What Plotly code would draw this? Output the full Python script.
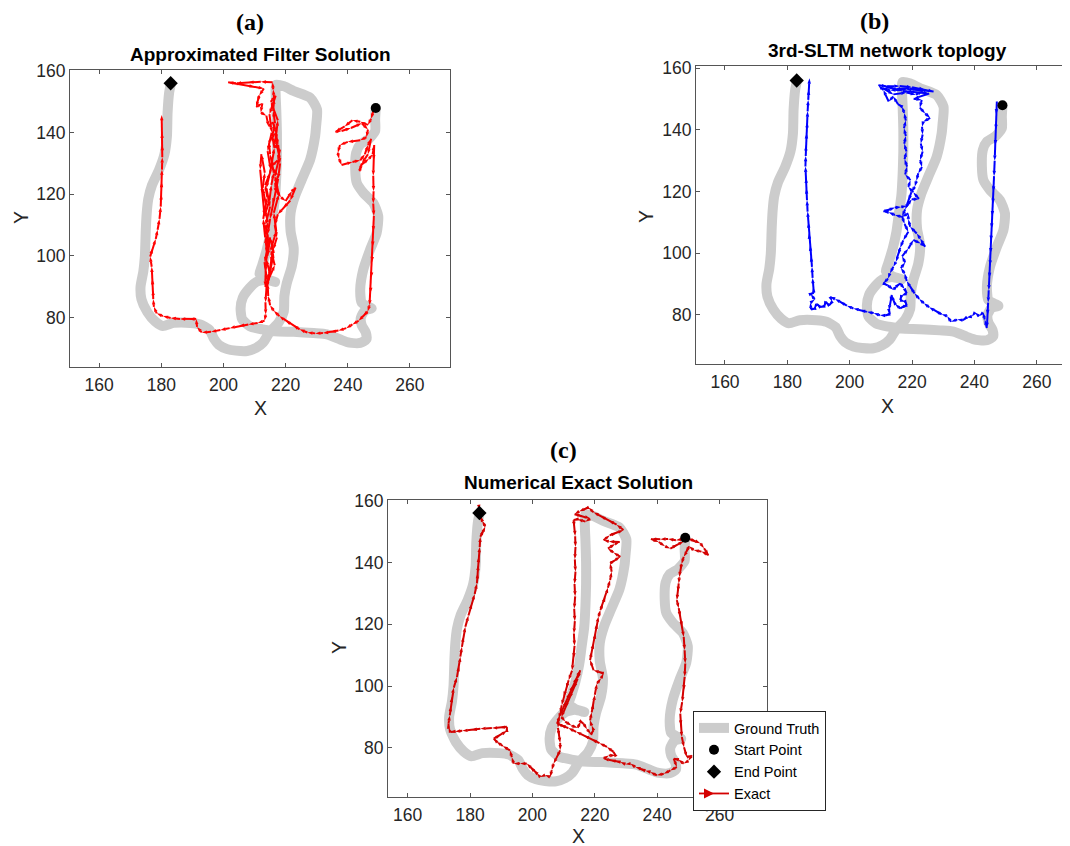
import plotly.graph_objects as go

W, H = 1070, 846
# empirical page placement of the exported figure (body margin etc.)
OFFX, OFFY, EFF_H = 8, 17, 837

X_TICKS = [160, 180, 200, 220, 240, 260]
Y_TICKS = [80, 100, 120, 140, 160]

START_X = [249.0]
START_Y = [148.0]
END_X = [183.0]
END_Y = [156.0]

# Ground truth path (same in all panels)
GT_X = [249.0, 248.8, 248.8, 246.6, 244.0, 242.7, 242.4, 242.9, 245.0, 248.2,
        249.8, 249.3, 247.2, 245.0, 244.0, 244.5, 246.5, 247.7, 245.5, 244.2,
        244.5, 245.8, 246.0, 244.0, 240.5, 237.6, 233.3, 229.0, 222.6, 216.5,
        212.5, 208.5, 206.0, 205.5, 206.2, 208.3, 210.6, 213.6, 216.6, 213.6,
        211.6, 212.3, 213.8, 215.0, 215.8, 216.6, 217.0, 217.2, 217.2, 217.0,
        216.8, 216.9, 219.5, 222.6, 227.9, 230.1, 229.8, 229.5, 227.9, 225.2,
        223.0, 221.6, 221.6, 222.6, 222.0, 220.4, 219.6, 219.4, 217.8, 215.0,
        212.8, 210.5, 207.6, 204.0, 201.2, 198.5, 196.9, 195.5, 192.5, 189.4,
        184.0, 180.5, 178.0, 175.5, 173.6, 173.3, 174.2, 174.7, 175.0, 175.3,
        175.8, 177.0, 179.3, 181.0, 181.8, 182.0, 182.5, 183.0]
GT_Y = [148.0, 144.3, 140.5, 137.8, 136.2, 133.5, 128.1, 123.7, 120.5, 117.2,
        112.9, 107.5, 102.1, 95.6, 89.1, 84.8, 83.6, 83.0, 82.3, 80.0,
        77.5, 75.2, 73.0, 71.8, 71.9, 72.9, 74.6, 75.0, 75.4, 75.6,
        76.2, 77.2, 79.5, 83.0, 86.5, 89.5, 91.6, 92.3, 91.6, 92.6,
        94.2, 96.5, 101.5, 107.0, 113.0, 119.0, 126.0, 133.0, 140.0, 147.0,
        152.0, 155.5, 155.0, 153.5, 151.3, 147.5, 142.0, 138.9, 131.3, 124.8,
        119.4, 114.0, 108.0, 102.5, 96.7, 91.3, 87.0, 82.0, 78.5, 75.5,
        72.0, 70.2, 69.2, 69.3, 69.8, 71.2, 73.2, 76.0, 77.8, 78.3,
        78.3, 77.3, 78.8, 81.8, 86.0, 90.0, 95.0, 100.0, 108.6, 114.0,
        118.5, 123.0, 128.0, 133.0, 138.9, 146.4, 152.9, 155.5]

# (a) Approximated filter solution
A_X = [248.3, 247.5, 246.5, 244.0, 241.5, 239.0, 236.0, 238.0, 241.0, 244.5,
       246.5, 246.0, 244.0, 240.0, 237.5, 236.8, 237.2, 238.0, 241.5, 244.0,
       245.5, 246.5, 247.5, 246.5, 244.5, 243.8, 244.3, 246.8, 248.0, 248.5,
       248.3, 248.2, 248.3, 248.2, 248.4, 248.2, 248.0, 247.8, 247.6, 247.3,
       247.0, 246.4, 245.0, 243.5, 241.5, 239.5, 237.0, 234.5, 232.0, 229.5,
       227.0, 224.5, 222.5, 220.0, 218.0, 216.2, 215.0, 214.4, 214.2, 214.8,
       213.7, 214.6, 213.5, 214.3, 213.3, 214.1, 213.4, 215.0, 215.6, 216.4,
       215.7, 216.6, 216.0, 216.3, 216.0, 215.8, 212.0, 208.0, 204.0, 201.5,
       206.0, 210.0, 213.0, 211.5, 211.0, 210.5, 212.5, 212.0, 213.8, 214.5,
       215.8, 217.2, 216.2, 218.2, 217.4, 215.4, 217.5, 216.4, 218.5, 220.0,
       222.0, 223.2, 221.5, 219.2, 217.5, 216.5, 217.2, 216.0, 215.2, 214.6,
       214.0, 215.2, 216.2, 215.0, 214.2, 213.4, 212.8, 213.6, 212.6, 213.3,
       212.2, 211.8, 212.6, 213.2, 214.8, 215.4, 216.2, 215.0, 214.6, 216.8,
       217.6, 218.2, 217.6, 216.8, 215.8, 215.0, 214.2, 213.8, 213.6, 213.4,
       214.8, 216.5, 215.2, 217.0, 216.2, 217.8, 216.5, 218.0, 216.8, 217.5,
       215.2, 216.8, 214.8, 215.5, 214.2, 215.2, 213.8, 215.0, 213.5, 214.6,
       213.2, 214.0,
       213.5, 213.6, 213.2, 211.0, 208.0, 205.0, 202.0, 199.0, 196.0, 193.0,
       191.5, 191.2, 189.0, 186.0, 183.0, 180.5, 178.5, 177.6, 177.4, 177.3,
       177.1, 176.9, 176.4, 177.2, 178.2, 178.8, 179.4, 179.8, 180.0, 180.1,
       180.2, 180.3, 180.3, 180.2, 180.1]
A_Y = [147.2, 144.5, 142.5, 143.5, 144.0, 142.0, 140.3, 140.5, 141.5, 143.0,
       141.0, 138.5, 137.5, 137.0, 136.0, 133.5, 131.5, 129.5, 130.5, 131.0,
       133.0, 136.0, 138.0, 133.0, 130.0, 127.5, 129.5, 131.5, 133.0, 136.0,
       131.0, 126.0, 121.0, 117.0, 113.0, 108.0, 103.0, 98.0, 93.0, 88.0,
       84.0, 82.0, 80.5, 79.0, 77.8, 76.6, 75.8, 75.3, 75.0, 74.9,
       75.2, 76.2, 77.5, 79.0, 80.5, 82.2, 84.0, 87.0, 91.0, 95.0,
       99.0, 103.0, 107.0, 111.0, 115.0, 119.0, 123.0, 127.0, 131.0, 135.0,
       139.0, 143.0, 147.0, 151.0, 154.0, 156.3, 156.5, 156.3, 156.0, 156.3,
       155.6, 154.8, 154.3, 152.0, 150.0, 148.3, 149.5, 146.5, 145.5, 142.0,
       143.5, 139.5, 136.0, 134.5, 131.0, 129.0, 126.0, 122.0, 119.0, 117.8,
       121.0, 122.2, 118.0, 115.5, 113.5, 110.0, 106.0, 102.0, 98.0, 94.0,
       90.0, 96.0, 101.0, 106.0, 100.0, 106.0, 112.0, 117.0, 122.0, 127.0,
       133.0, 128.0, 120.0, 113.0, 118.0, 123.0, 127.0, 133.0, 137.0, 140.0,
       136.0, 130.0, 125.0, 121.0, 117.0, 112.0, 107.0, 101.0, 95.0, 90.0,
       93.0, 97.0, 102.0, 108.0, 114.0, 120.0, 126.0, 132.0, 138.0, 144.0,
       150.0, 152.0, 146.0, 140.0, 134.0, 128.0, 122.0, 116.0, 110.0, 104.0,
       98.0, 92.0,
       85.0, 81.0, 79.0, 78.3, 77.8, 77.3, 76.6, 76.0, 75.4, 75.2,
       77.0, 79.6, 79.5, 79.6, 79.9, 80.5, 81.4, 83.5, 86.0, 89.0,
       92.5, 96.5, 99.8, 102.5, 105.5, 108.5, 112.0, 116.0, 120.0, 124.0,
       128.0, 132.0, 136.0, 140.0, 145.7]

# (b) 3rd-SLTM network topology
B_X = [247.2, 247.0, 246.9, 246.7, 246.5, 246.3, 246.1, 245.9, 245.7, 245.5,
       245.3, 245.2, 245.0, 244.8, 244.6, 244.4, 244.2, 244.0, 243.3, 242.8,
       241.5, 240.2, 239.2, 237.5, 236.3, 234.5, 232.5, 231.3, 229.5, 227.5,
       225.5, 223.8, 222.3, 220.8, 219.5, 218.3, 217.6, 216.4, 217.8, 216.8,
       218.8, 220.4, 222.8, 224.2, 222.6, 221.5, 219.4, 218.8, 218.8, 216.7,
       214.5, 212.5, 210.8, 212.8, 214.5, 216.5, 218.3, 219.9, 222.2, 220.4,
       218.8, 219.5, 217.8, 218.4, 217.6, 218.2, 217.5, 218.0, 217.4, 218.0,
       217.5, 216.8, 215.5, 214.0, 212.5, 210.8, 209.2, 212.0, 216.0, 220.0,
       224.0, 226.9, 222.6, 218.0, 213.0, 210.5, 214.0, 218.2, 221.2, 223.5,
       219.0, 214.5, 211.0, 217.0, 225.5,
       220.5, 223.1, 222.5, 224.2, 225.8, 223.6, 223.2, 223.4, 222.8, 223.4,
       222.6, 223.2, 222.0, 221.4, 220.9, 219.8, 218.9, 217.8, 216.8, 217.6,
       218.8, 217.2, 216.2, 215.6, 214.8, 214.0, 212.9, 212.3, 210.8, 212.2,
       214.0, 215.4, 216.2, 217.6, 218.3, 216.6, 216.2, 217.8, 218.3, 216.9,
       216.2, 214.6, 214.0, 213.5, 213.0, 212.6, 212.9, 211.4, 209.7, 207.7,
       205.5, 203.3, 201.2, 199.1, 196.9, 195.3, 193.7, 194.4, 193.4, 192.3,
       191.8, 190.5, 189.5, 188.5, 187.6, 187.4, 188.8, 187.5, 188.5, 188.3,
       188.1, 187.9, 187.6, 187.3, 186.9, 186.8, 186.5, 186.3, 186.1, 186.0,
       185.8, 185.9, 186.0, 186.2, 186.4, 186.5, 186.7, 186.9, 187.1]
B_Y = [149.2, 145.0, 140.0, 135.0, 130.0, 125.0, 120.0, 116.0, 112.0, 108.0,
       104.0, 100.0, 96.0, 92.0, 88.0, 84.0, 80.0, 75.8, 78.5, 80.8,
       79.6, 80.8, 79.5, 79.2, 78.3, 78.5, 77.8, 79.6, 80.2, 81.3,
       82.5, 83.8, 85.2, 87.0, 89.0, 91.0, 93.5, 95.2, 97.0, 99.0,
       101.5, 104.3, 103.2, 102.1, 104.8, 106.4, 108.6, 111.0, 112.9, 111.8,
       112.4, 113.3, 113.5, 114.2, 114.8, 115.0, 115.3, 117.5, 117.6, 119.8,
       121.5, 123.7, 125.5, 128.1, 130.5, 133.0, 135.5, 138.0, 140.5, 143.0,
       145.5, 147.5, 148.3, 150.8, 149.2, 152.9, 154.5, 154.1, 154.2, 153.8,
       153.1, 152.4, 152.9, 153.2, 152.8, 153.6, 151.5, 152.1, 151.4, 152.6,
       153.6, 153.2, 154.2, 152.6, 151.8,
       150.1, 149.7, 147.2, 145.3, 143.9, 142.6, 141.0, 138.5, 135.6, 133.0,
       130.2, 128.0, 125.9, 123.5, 121.6, 119.8, 117.0, 114.2, 112.0, 109.5,
       107.0, 104.2, 101.8, 99.5, 97.2, 95.6, 93.5, 91.8, 90.2, 89.6,
       88.2, 89.6, 90.2, 88.4, 87.0, 86.2, 84.8, 84.3, 83.2, 82.5,
       82.1, 83.5, 84.8, 86.5, 84.2, 81.5, 80.3, 79.8, 79.9, 80.6,
       81.0, 81.6, 82.1, 83.0, 84.3, 85.2, 85.9, 84.3, 83.1, 84.2,
       82.8, 82.6, 83.6, 82.0, 81.8, 84.0, 85.0, 86.8, 87.2, 89.0,
       92.0, 95.6, 99.0, 102.5, 106.4, 110.0, 113.5, 117.2, 121.0, 124.5,
       128.1, 131.5, 135.0, 138.9, 142.5, 146.0, 149.7, 153.0, 156.7]

# (c) Numerical exact solution
C_X = [249.2, 248.0, 246.0, 243.5, 241.0, 238.0, 240.5, 242.5, 244.2, 246.5,
       248.5, 250.5, 252.5, 253.8, 255.0, 256.5, 254.2, 251.7, 250.2, 249.3,
       248.5, 247.8, 247.4, 247.1, 246.9, 246.6, 246.3, 246.9, 247.4, 248.0,
       248.5, 248.8, 249.0, 248.8, 248.5, 248.0, 247.4, 247.6, 247.9, 248.6,
       249.5, 251.1, 250.0, 248.5, 246.8, 245.3, 246.3, 244.2, 242.1, 239.9,
       237.8, 236.2, 234.6, 233.0, 231.4, 229.8, 228.2, 226.6, 225.0, 222.8,
       224.5, 226.6, 226.0, 223.9, 221.5, 219.0, 216.5, 214.0, 211.5, 209.0,
       207.9, 208.8, 209.8, 210.9, 212.0, 213.0, 214.2, 215.3, 214.5, 213.2,
       211.8, 210.5, 209.3, 210.5, 212.5, 214.5, 215.5, 216.4, 217.5, 218.8,
       219.6, 219.0, 218.5, 219.0, 219.6, 220.0, 220.7, 222.0, 222.8, 221.2,
       219.6, 218.5, 219.0, 219.6, 220.2, 220.7, 221.2, 221.8, 222.6, 223.4,
       224.2, 224.9, 225.4, 224.9, 226.5, 228.2, 226.0, 224.2, 226.5, 228.0,
       224.5, 222.8, 224.8, 227.0, 229.2, 227.0, 224.5, 221.8, 219.6, 218.0,
       216.5, 215.0, 213.5, 216.0, 218.5, 217.0, 214.5, 213.2, 213.5, 213.7,
       213.8, 213.6, 213.8, 213.5, 213.7, 213.4, 213.6, 213.3, 213.5, 213.2,
       212.7, 211.6, 210.8, 210.0, 209.4, 208.9, 208.4, 208.2, 208.6, 208.9,
       208.9, 207.8, 206.8, 206.2, 205.7, 204.0, 202.5, 201.4, 200.4, 199.3,
       198.2, 196.0, 194.0, 193.4, 192.8, 190.5, 188.5, 187.6, 189.8, 191.8,
       191.8, 189.5, 187.0, 183.3, 180.5, 177.5, 175.2, 173.7, 173.1, 173.1,
       173.5, 173.9, 174.2, 174.8, 175.8, 176.5, 176.9, 177.4, 177.9, 178.5,
       179.5, 180.6, 181.5, 182.2, 182.5, 182.6, 182.8, 183.1, 183.3, 184.4,
       184.9, 183.9, 183.3, 182.8, 182.8, 183.0]
C_Y = [148.0, 147.5, 147.2, 147.6, 147.5, 147.6, 146.6, 145.2, 144.5, 145.8,
       146.8, 147.5, 146.8, 146.2, 144.6, 142.4, 143.5, 144.0, 145.2, 143.2,
       141.8, 139.5, 137.5, 135.2, 133.2, 130.5, 127.8, 125.2, 122.4, 119.2,
       115.9, 111.6, 107.3, 103.0, 98.6, 94.8, 91.1, 87.2, 83.5, 80.2,
       77.0, 77.6, 75.8, 74.9, 76.2, 76.5, 73.8, 72.7, 71.6, 71.1,
       72.2, 72.6, 73.3, 73.8, 74.9, 74.7, 75.4, 75.7, 76.0, 76.5,
       77.5, 77.6, 78.7, 80.3, 81.5, 82.8, 84.0, 85.2, 86.4, 87.4,
       87.8, 90.5, 92.8, 95.2, 97.8, 100.2, 102.8, 105.1, 102.3, 99.2,
       96.0, 93.0, 90.0, 88.5, 87.2, 86.5, 88.5, 87.8, 86.0, 84.5,
       85.7, 87.2, 88.9, 91.5, 94.3, 97.2, 100.8, 102.5, 104.1, 104.6,
       105.1, 108.4, 111.2, 113.8, 117.0, 120.2, 122.5, 124.6, 126.8, 128.9,
       131.8, 134.3, 137.0, 139.7, 140.8, 141.8, 143.2, 144.5, 146.0, 146.6,
       146.8, 147.2, 148.8, 149.6, 150.5, 152.2, 153.6, 155.0, 156.2, 157.8,
       157.2, 156.5, 155.6, 155.0, 154.2, 153.2, 154.0, 153.7, 151.5, 148.5,
       145.0, 141.0, 137.0, 133.0, 129.0, 125.0, 121.0, 117.0, 113.0, 109.0,
       105.0, 101.9, 99.2, 96.5, 93.8, 91.1, 89.5, 86.5, 83.8, 81.6,
       79.2, 77.0, 74.9, 72.8, 70.6, 71.2, 70.6, 71.8, 72.7, 73.8,
       74.9, 74.9, 74.9, 77.0, 79.2, 80.6, 82.0, 83.0, 84.2, 85.5,
       86.8, 86.5, 86.4, 86.2, 85.8, 85.5, 85.3, 85.1, 86.6, 87.9,
       90.5, 93.5, 96.5, 99.5, 102.9, 106.5, 109.5, 112.7, 116.0, 119.2,
       122.8, 126.7, 129.8, 133.2, 136.5, 139.2, 141.8, 145.0, 148.3, 150.5,
       151.6, 153.5, 154.8, 156.5, 158.6, 157.0]

SANS = "Liberation Sans, Arial, Helvetica, sans-serif"
SERIF = "Liberation Serif, Times New Roman, serif"
AX_COLOR = "#555555"
TXT_COLOR = "#262626"
GT_COLOR = "#cccccc"

PANELS = [
    dict(n="", box=(70, 450, 70, 367), xr=(150.6, 272.9), yr=(64.0, 160.3),
         label="(a)", label_xy=(250, 22), title="Approximated Filter Solution",
         title_xy=(260, 54), xt_xy=(260, 408), yt_xy=(21, 218),
         tx=A_X, ty=A_Y, color="#ff0000"),
    dict(n="2", box=(696, 1067, 66, 364), xr=(150.7, 269.7), yr=(64.1, 160.7),
         label="(b)", label_xy=(875, 21), title="3rd-SLTM network toplogy",
         title_xy=(887, 51), xt_xy=(887, 406), yt_xy=(646, 217),
         tx=B_X, ty=B_Y, color="#0000ff"),
    dict(n="3", box=(388, 767, 500, 797), xr=(153.7, 275.2), yr=(64.1, 160.2),
         label="(c)", label_xy=(563, 450), title="Numerical Exact Solution",
         title_xy=(578, 483), xt_xy=(578, 836), yt_xy=(339, 648),
         tx=C_X, ty=C_Y, color="#d40000"),
]


def px2paper(x, y):
    return (x - OFFX) / W, 1 - (y - OFFY) / EFF_H


fig = go.Figure()
annotations = []
layout_axes = {}

for i, p in enumerate(PANELS):
    xa, ya = "x" + p["n"], "y" + p["n"]
    last = (i == 2)
    fig.add_trace(go.Scatter(
        x=GT_X, y=GT_Y, xaxis=xa, yaxis=ya, mode="lines", name="Ground Truth",
        line=dict(color=GT_COLOR, width=10, shape="spline", smoothing=0.6),
        showlegend=last, hoverinfo="skip"))
    fig.add_trace(go.Scatter(
        x=p["tx"], y=p["ty"], xaxis=xa, yaxis=ya, mode="lines+markers",
        name="Exact", line=dict(color=p["color"], width=2),
        marker=dict(symbol="arrow", angleref="previous", size=5.5, color=p["color"]),
        showlegend=False))
    fig.add_trace(go.Scatter(
        x=START_X, y=START_Y, xaxis=xa, yaxis=ya, mode="markers", name="Start Point",
        marker=dict(symbol="circle", size=10, color="black"), showlegend=last))
    fig.add_trace(go.Scatter(
        x=END_X, y=END_Y, xaxis=xa, yaxis=ya, mode="markers", name="End Point",
        marker=dict(symbol="diamond", size=11, color="black"), showlegend=last))
    if last:
        fig.add_trace(go.Scatter(
            x=[None], y=[None], xaxis=xa, yaxis=ya, mode="lines+markers", name="Exact",
            line=dict(color=p["color"], width=1.8),
            marker=dict(symbol="arrow-right", size=10, color=p["color"]),
            showlegend=True))

    x0, x1, y0, y1 = p["box"]
    dx0, dy1 = px2paper(x0, y1)
    dx1, dy0 = px2paper(x1, y0)
    common = dict(showline=True, linecolor=AX_COLOR, linewidth=1, mirror="ticks",
                  ticks="inside", ticklen=4, tickcolor=AX_COLOR, showgrid=False,
                  zeroline=False, tickfont=dict(family=SANS, size=17.5, color=TXT_COLOR))
    layout_axes["xaxis" + p["n"]] = dict(
        domain=[dx0, dx1], range=list(p["xr"]), anchor=ya,
        tickvals=X_TICKS, ticklabelstandoff=2, **common)
    layout_axes["yaxis" + p["n"]] = dict(
        domain=[dy1, dy0], range=list(p["yr"]), anchor=xa,
        tickvals=Y_TICKS, ticklabelstandoff=0, **common)

    for txt, (ax, ay), font, angle in [
        (p["label"], p["label_xy"], dict(family=SERIF, size=24, color="black", weight="bold"), 0),
        (p["title"], p["title_xy"], dict(family=SANS, size=19, color="black", weight="bold"), 0),
        ("X", p["xt_xy"], dict(family=SANS, size=19.5, color=TXT_COLOR), 0),
        ("Y", p["yt_xy"], dict(family=SANS, size=19.5, color=TXT_COLOR), -90),
    ]:
        qx, qy = px2paper(ax, ay)
        annotations.append(dict(text=txt, x=qx, y=qy, xref="paper", yref="paper",
                                xanchor="center", yanchor="middle", showarrow=False,
                                font=font, textangle=angle))

lx, ly = px2paper(693, 711)
fig.update_layout(
    width=W, height=H, autosize=False,
    margin=dict(l=0, r=0, t=0, b=0),
    paper_bgcolor="white", plot_bgcolor="white",
    annotations=annotations,
    legend=dict(x=lx, y=ly, xanchor="left", yanchor="top", bgcolor="white",
                bordercolor="#262626", borderwidth=1, tracegroupgap=0,
                font=dict(family=SANS, size=14.5, color="black"),
                itemwidth=30),
    **layout_axes,
)

fig.write_html("out.html")
